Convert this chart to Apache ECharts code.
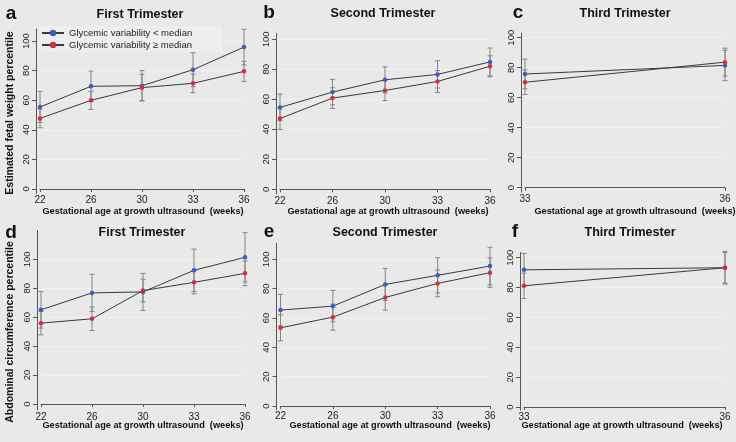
<!DOCTYPE html>
<html>
<head>
<meta charset="utf-8">
<script src="https://cdn.jsdelivr.net/npm/echarts@6/dist/echarts.min.js"></script>
<style>
html,body{margin:0;padding:0;background:#e9e9e9;}
#chart{width:736px;height:442px;}
</style>
</head>
<body>
<div id="chart"></div>
<script>
// ---------- DATA ----------
const weeksFull = ['22', '26', '30', '33', '36'];
const weeksThird = ['33', '36'];
const yTickLabels = [0, 20, 40, 60, 80, 100];

const seriesNames = ['Glycemic variability < median', 'Glycemic variability \u2265 median'];

// Estimated fetal weight percentile
const efwFirstBelow = [55.4, 69.4, 69.8, 80.6, 95.9];
const efwFirstBelowCI = [10.4, 10.3, 10.2, 11.5, 12.0];
const efwFirstAbove = [47.7, 59.9, 68.5, 71.4, 79.5];
const efwFirstAboveCI = [6.3, 6.1, 9.0, 6.3, 6.8];

const efwSecondBelow = [54.6, 64.8, 73.0, 76.6, 84.9];
const efwSecondBelowCI = [8.9, 8.5, 8.7, 9.1, 9.3];
const efwSecondAbove = [47.2, 60.8, 65.9, 71.9, 82.0];
const efwSecondAboveCI = [7.3, 6.9, 6.7, 7.3, 7.0];

const efwThirdBelow = [75.8, 81.5];
const efwThirdBelowCI = [9.9, 10.1];
const efwThirdAbove = [70.3, 83.7];
const efwThirdAboveCI = [8.2, 9.3];

// Abdominal circumference percentile
const acFirstBelow = [65.1, 76.8, 77.5, 92.4, 101.4];
const acFirstBelowCI = [12.6, 12.9, 12.8, 14.7, 17.0];
const acFirstAbove = [55.9, 58.9, 78.4, 84.1, 90.3];
const acFirstAboveCI = [8.1, 8.1, 7.8, 8.0, 8.5];

const acSecondBelow = [65.4, 68.1, 82.9, 89.1, 95.4];
const acSecondBelowCI = [10.7, 10.7, 10.9, 12.0, 12.8];
const acSecondAbove = [53.3, 60.6, 74.0, 83.6, 90.9];
const acSecondAboveCI = [8.9, 8.9, 8.6, 9.1, 10.0];

const acThirdBelow = [91.9, 93.3];
const acThirdBelowCI = [11.0, 10.3];
const acThirdAbove = [81.2, 93.3];
const acThirdAboveCI = [8.5, 11.0];

// ---------- LAYOUT ----------
const BLUE = '#3b5cc4';
const RED = '#d3303e';
const FONT = '"Liberation Sans", Arial, sans-serif';

const panels = [
  {cats: weeksFull, below: efwFirstBelow, belowCI: efwFirstBelowCI, above: efwFirstAbove, aboveCI: efwFirstAboveCI,
   grid: {left: 40, top: 29.2, width: 204, height: 164.2}, min: -3, max: 108},
  {cats: weeksFull, below: efwSecondBelow, belowCI: efwSecondBelowCI, above: efwSecondAbove, aboveCI: efwSecondAboveCI,
   grid: {left: 280, top: 33.3, width: 210, height: 160.5}, min: -3, max: 104},
  {cats: weeksThird, below: efwThirdBelow, belowCI: efwThirdBelowCI, above: efwThirdAbove, aboveCI: efwThirdAboveCI,
   grid: {left: 525, top: 33.2, width: 200, height: 159}, min: -3, max: 103},
  {cats: weeksFull, below: acFirstBelow, belowCI: acFirstBelowCI, above: acFirstAbove, aboveCI: acFirstAboveCI,
   grid: {left: 41, top: 230.4, width: 204, height: 179.4}, min: -4, max: 120},
  {cats: weeksFull, below: acSecondBelow, belowCI: acSecondBelowCI, above: acSecondAbove, aboveCI: acSecondAboveCI,
   grid: {left: 280.5, top: 243.2, width: 209.5, height: 166.5}, min: -2.5, max: 111},
  {cats: weeksThird, below: acThirdBelow, belowCI: acThirdBelowCI, above: acThirdAbove, aboveCI: acThirdAboveCI,
   grid: {left: 524, top: 252.5, width: 201, height: 157.5}, min: -2, max: 103.5}
];

const grids = [], xAxes = [], yAxes = [], series = [];

function errorSeries(idx, mean, ci) {
  return {
    type: 'custom',
    xAxisIndex: idx, yAxisIndex: idx,
    silent: true,
    z: 1,
    data: mean.map((m, i) => [i, m - ci[i], m + ci[i]]),
    encode: {x: 0, y: [1, 2]},
    renderItem: function (params, api) {
      const x = api.value(0);
      const lo = api.coord([x, api.value(1)]);
      const hi = api.coord([x, api.value(2)]);
      const w = 2.5;
      const st = {stroke: '#858585', lineWidth: 1};
      return {
        type: 'group',
        children: [
          {type: 'line', shape: {x1: lo[0], y1: lo[1], x2: hi[0], y2: hi[1]}, style: st},
          {type: 'line', shape: {x1: lo[0] - w, y1: lo[1], x2: lo[0] + w, y2: lo[1]}, style: st},
          {type: 'line', shape: {x1: hi[0] - w, y1: hi[1], x2: hi[0] + w, y2: hi[1]}, style: st}
        ]
      };
    }
  };
}

function lineSeries(idx, name, data, color) {
  return {
    type: 'line', name: name,
    xAxisIndex: idx, yAxisIndex: idx,
    data: data,
    z: 3,
    symbol: 'circle', symbolSize: 4.5,
    itemStyle: {color: color},
    lineStyle: {color: '#3a3a3a', width: 1},
    emphasis: {disabled: true},
    animation: false
  };
}

panels.forEach((p, idx) => {
  grids.push(Object.assign({containLabel: false}, p.grid));
  xAxes.push({
    type: 'category', gridIndex: idx, data: p.cats, boundaryGap: false,
    axisLine: {show: true, lineStyle: {color: '#555', width: 1}},
    axisTick: {show: true, length: 3, lineStyle: {color: '#555'}},
    axisLabel: {fontSize: 10, color: '#222', margin: 2, fontFamily: FONT},
    splitLine: {show: false}
  });
  yAxes.push({
    type: 'value', gridIndex: idx, min: p.min, max: p.max, offset: 4,
    axisLine: {show: true, lineStyle: {color: '#555', width: 1}},
    axisTick: {show: true, length: 4, customValues: yTickLabels, lineStyle: {color: '#555'}},
    axisLabel: {customValues: yTickLabels, rotate: 90, fontSize: 9.5, color: '#222', margin: 5, fontFamily: FONT},
    splitLine: {show: true, lineStyle: {color: '#f1f1f1', width: 1}}
  });
  series.push(errorSeries(idx, p.below, p.belowCI));
  series.push(errorSeries(idx, p.above, p.aboveCI));
  series.push(lineSeries(idx, seriesNames[0], p.below, BLUE));
  series.push(lineSeries(idx, seriesNames[1], p.above, RED));
});

function txt(x, y, text, size, opts) {
  return Object.assign({
    type: 'text', x: x, y: y,
    style: {text: text, fontSize: size, fontWeight: 'bold', fontFamily: FONT, fill: '#111',
            align: 'center', verticalAlign: 'middle'}
  }, opts || {});
}

const xTitle = 'Gestational age at growth ultrasound  (weeks)';
const graphics = [
  txt(11, 14, 'a', 19), txt(269, 13, 'b', 19), txt(518, 13, 'c', 19),
  txt(11, 233, 'd', 19), txt(269, 232, 'e', 19), txt(515, 232, 'f', 19),
  txt(140, 15, 'First Trimester', 12.5), txt(383, 14, 'Second Trimester', 12.5), txt(625, 14, 'Third Trimester', 12.5),
  txt(142, 233, 'First Trimester', 12.5), txt(385, 233, 'Second Trimester', 12.5), txt(630, 233, 'Third Trimester', 12.5),
  txt(143, 211, xTitle, 9.2), txt(388, 211, xTitle, 9.2), txt(635, 211, xTitle, 9.2),
  txt(143, 425, xTitle, 9.2), txt(390, 425, xTitle, 9.2), txt(622, 425, xTitle, 9.2),
  txt(10, 113, 'Estimated fetal weight percentile', 10.5, {rotation: Math.PI / 2}),
  txt(10, 332, 'Abdominal circumference percentile', 10.5, {rotation: Math.PI / 2})
];

const chart = echarts.init(document.getElementById('chart'), null, {renderer: 'canvas'});
chart.setOption({
  backgroundColor: '#e9e9e9',
  animation: false,
  grid: grids,
  xAxis: xAxes,
  yAxis: yAxes,
  series: series,
  legend: {
    data: seriesNames,
    orient: 'vertical',
    left: 39, top: 26,
    itemGap: 2, itemWidth: 22, itemHeight: 8,
    padding: [2, 30, 2, 2],
    backgroundColor: '#eeeeee',
    textStyle: {fontSize: 9.5, color: '#222', fontFamily: FONT}
  },
  graphic: graphics
});
</script>
</body>
</html>
